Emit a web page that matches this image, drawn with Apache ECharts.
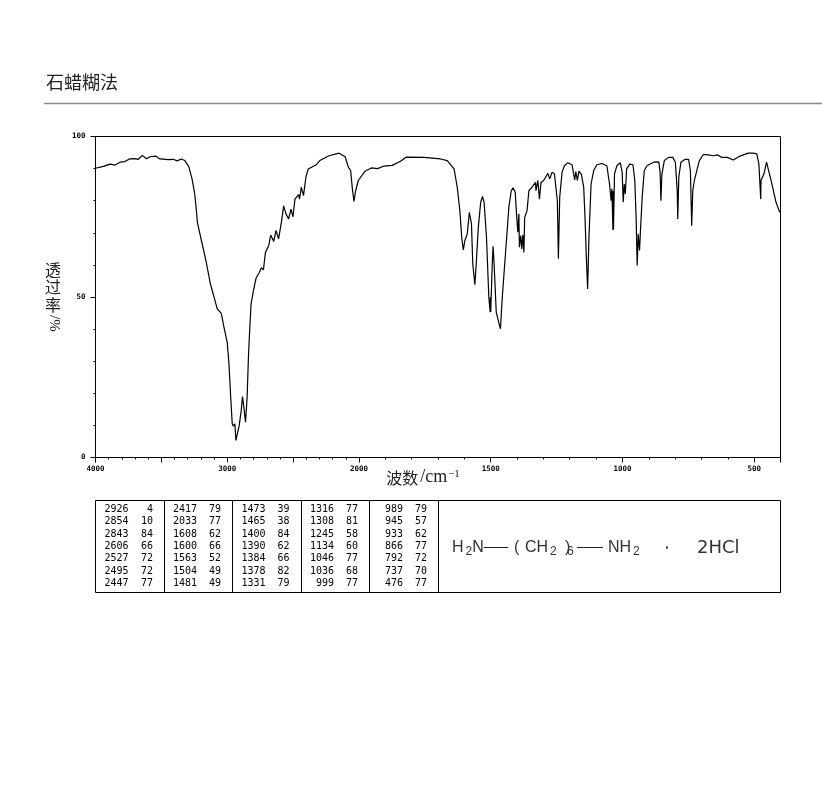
<!DOCTYPE html>
<html>
<head>
<meta charset="utf-8">
<style>html,body{margin:0;padding:0;background:#fff}#c{width:822px;height:794px}</style>
<script src="https://cdn.jsdelivr.net/npm/echarts@6/dist/echarts.min.js"></script>
</head>
<body>
<div id="c"></div>
<script>
const titleText = '石蜡糊法';
const xLabelTicks = [4000, 3000, 2000, 1500, 1000, 500];
const xMajorTicks = [4000, 3500, 3000, 2500, 2000, 1500, 1000, 500, 400];
const xMinorTicks = [3900,3800,3700,3600,3400,3300,3200,3100,2900,2800,2700,2600,2400,2300,2200,2100,1900,1800,1700,1600,1400,1300,1200,1100,900,800,700,600];
const yMajorTicks = [0, 50, 100];
const yMinorTicks = [10,20,30,40,60,70,80,90];
const wavenumbers = [
4000,3940,3889,3851,3814,3776,3743,3700,3675,3645,3612,3587,3544,3511,3448,3410,3380,3348,3322,3292,
3267,3247,3234,3227,3196,3159,3128,3103,3076,3045,3025,3000,2987,2975,2962,2955,2942,2934,2922,2909,
2894,2884,2874,2861,2854,2849,2839,2831,2819,2801,2781,2756,2741,2725,2710,2685,2670,2647,2630,2610,
2587,2572,2554,2534,2516,2501,2486,2458,2451,2438,2421,2403,2385,2327,2297,2227,2151,2105,2080,2063,
2050,2038,2025,2005,1977,1953,1929,1905,1874,1842,1820,1753,1690,
1665,1639,1627,1617,1610,1604,1598,1589,1581,1576,1573,1568,1560,1555,1547,1538,1531,1525,1516,1507,
1502,1501,1500,1494,1491,1487,1479,1473,1468,1463,1456,1444,1431,1422,1415,1407,1402,1397,1393,1391,
1386,1382,1378,1374,1371,1362,1355,1343,1330,1328,1321,1315,1309,1299,1283,1276,1267,1258,1247,1243,
1238,1229,1220,1208,1191,1185,1181,1177,1171,1165,1156,1147,1142,1137,1132,1127,1119,1109,1097,1078,
1059,1049,1043,1040,1036,1035,1034,1030,1021,1008,1001,997,993,989,984,972,960,953,948,944,940,935,932,
925,917,907,882,862,857,854,850,841,825,809,799,792,790,786,778,762,749,742,737,733,727,720,708,693,674,
655,640,623,602,579,554,522,503,490,482,475,474,463,453,446,434,417,404,400];
const transmittance = [
90.1,90.7,91.4,91.1,92.0,92.2,93.0,93.1,92.9,94.1,93.1,93.7,93.9,93.0,92.8,92.9,92.4,93.0,92.5,90.6,
86.8,82.1,76.9,73.3,67.6,60.8,54.1,50.4,46.3,44.9,40.6,35.9,29.2,19.8,10.5,9.8,10.5,5.3,5.1,10.0,
14.6,19.0,15.7,11.0,10.5,18.8,31.2,38.5,47.9,52.0,55.9,57.7,59.1,58.5,63.9,66.0,69.3,67.3,70.7,68.1,
73.8,78.4,75.9,74.3,77.4,75.0,80.5,81.9,80.5,84.2,81.6,87.3,89.9,91.1,92.5,94.0,94.8,93.7,90.4,89.4,
83.7,79.8,83.1,86.3,89.2,90.2,90.0,90.8,91.0,92.3,93.6,93.5,93.0,
92.5,89.9,84.2,76.9,68.6,64.7,67.6,69.6,76.4,76.7,72.8,60.3,53.8,60.3,71.7,79.5,81.3,79.5,68.6,49.9,
45.3,49.9,45.3,60.3,65.8,60.3,45.3,45.3,41.6,40.1,49.9,63.4,78.0,83.1,84.0,82.6,75.9,70.2,75.9,65.5,
69.1,65.0,69.4,63.9,74.8,76.9,83.1,84.2,85.7,83.1,86.3,80.5,85.7,86.3,88.5,86.8,88.9,88.3,80.0,61.9,
81.1,88.9,90.9,91.8,91.2,88.3,86.5,89.1,86.3,89.2,88.3,84.2,74.8,62.4,52.5,68.6,85.2,89.4,91.2,91.6,
90.9,85.2,80.0,83.7,70.9,83.0,71.0,88.3,90.9,91.8,88.9,79.5,85.2,82.1,89.9,91.4,91.2,86.3,74.8,59.8,69.6,64.5,69.9,
81.1,89.4,90.9,92.0,92.1,88.9,80.0,88.3,92.5,93.5,93.5,92.0,83.1,74.3,87.3,92.0,92.9,92.9,89.4,72.2,83.1,86.3,86.8,92.5,94.4,94.3,
94.0,94.3,93.5,93.5,92.7,93.9,94.8,94.8,94.6,91.4,80.5,86.3,88.3,92.0,91.4,85.7,79.5,76.6,76.4];
const peakColumns = [
  [[2926,4],[2854,10],[2843,84],[2606,66],[2527,72],[2495,72],[2447,77]],
  [[2417,79],[2033,77],[1608,62],[1600,66],[1563,52],[1504,49],[1481,49]],
  [[1473,39],[1465,38],[1400,84],[1390,62],[1384,66],[1378,82],[1331,79]],
  [[1316,77],[1308,81],[1245,58],[1134,60],[1046,77],[1036,68],[999,77]],
  [[989,79],[945,57],[933,62],[866,77],[792,72],[737,70],[476,77]]
];

// The axis doubles its scale below 2000 cm-1; this folds a wavenumber into axis units.
const toAxis = w => w >= 2000 ? 4000 - w : 2000 + (2000 - w) * 2;
const fromAxis = p => p <= 2000 ? 4000 - p : 2000 - (p - 2000) / 2;
const axisMax = toAxis(400);

const mono = '"DejaVu Sans Mono"';
const subRich = {
  a: {fontFamily: '"Liberation Sans"', fontSize: 16, color: '#333'},
  s: {fontFamily: '"Liberation Sans"', fontSize: 12, color: '#333', padding: [7, 0, 0, 2]}
};

const g = [];
g.push({type: 'line', shape: {x1: 44, y1: 103.5, x2: 822, y2: 103.5}, style: {stroke: '#8a8a8a', lineWidth: 1.5}, silent: true});
g.push({type: 'text', x: 45, y: 261, style: {text: '透\n过\n率', fontFamily: '"Noto Sans CJK SC"', fontSize: 16, lineHeight: 17.5, fill: '#222'}});
g.push({type: 'text', x: 61, y: 315, rotation: -Math.PI / 2, style: {text: '/%', fontFamily: '"Liberation Serif"', fontSize: 15, fill: '#222'}});

// peak table
const tableL = 95.5, tableT = 500.5, tableR = 780.5, tableB = 592.5;
g.push({type: 'rect', shape: {x: tableL, y: tableT, width: tableR - tableL, height: tableB - tableT}, style: {fill: 'none', stroke: '#000', lineWidth: 1}});
const dividers = [164.5, 232.5, 301.5, 369.5, 438.5];
dividers.forEach(x => g.push({type: 'line', shape: {x1: x, y1: tableT, x2: x, y2: tableB}, style: {stroke: '#000', lineWidth: 1}}));
const waveRight = [128.5, 197, 265.5, 334, 403];
const valueRight = [153, 221, 289.5, 358, 427];
peakColumns.forEach((col, c) => col.forEach((row, r) => {
  const y = 509.5 + r * 12.33;
  g.push({type: 'text', x: waveRight[c], y, style: {text: String(row[0]), align: 'right', verticalAlign: 'middle', fontFamily: mono, fontSize: 10, fill: '#000'}});
  g.push({type: 'text', x: valueRight[c], y, style: {text: String(row[1]), align: 'right', verticalAlign: 'middle', fontFamily: mono, fontSize: 10, fill: '#000'}});
}));

// formula
const fy = 548;
const ftext = (x, text) => g.push({type: 'text', x, y: fy, style: {text, rich: subRich, verticalAlign: 'middle', fontFamily: '"Liberation Sans"', fontSize: 16, fill: '#333'}});
ftext(452, '{a|H}{s|2}{a|N}');
g.push({type: 'line', shape: {x1: 484, y1: 547.5, x2: 508, y2: 547.5}, style: {stroke: '#222', lineWidth: 1}});
ftext(514, '{a|(}');
ftext(525, '{a|CH}{s|2}');
ftext(565, '{a|)}');
ftext(565, '{s|6}');
g.push({type: 'line', shape: {x1: 577, y1: 547.5, x2: 603, y2: 547.5}, style: {stroke: '#222', lineWidth: 1}});
ftext(608, '{a|NH}{s|2}');
g.push({type: 'rect', shape: {x: 666, y: 546.5, width: 2, height: 2}, style: {fill: '#222'}});
g.push({type: 'text', x: 697, y: fy, style: {text: '2HCl', verticalAlign: 'middle', fontFamily: '"DejaVu Sans"', fontSize: 18, fill: '#333'}});

const noLabel = {show: false};
const common = {type: 'value', min: 0, max: axisMax, splitLine: {show: false}};
const option = {
  animation: false,
  backgroundColor: '#fff',
  title: {text: titleText, left: 41, top: 68, textStyle: {fontFamily: '"Noto Sans CJK SC"', fontSize: 18, fontWeight: 'normal', color: '#222'}},
  grid: {left: 95.5, top: 136.5, width: 685, height: 321, show: true, borderColor: '#000', borderWidth: 1, backgroundColor: 'transparent'},
  xAxis: [
    Object.assign({}, common, {
      position: 'bottom',
      name: '{c|波数}{l|/cm}{u|−1}', nameLocation: 'middle', nameGap: 11, nameMoveOverlap: false,
      nameTextStyle: {padding: [0, 30, 0, 0], rich: {
        c: {fontFamily: '"Noto Sans CJK SC"', fontSize: 16, color: '#222'},
        l: {fontFamily: '"Liberation Serif"', fontSize: 18, color: '#222', padding: [0, 0, 0, 2]},
        u: {fontFamily: '"Liberation Serif"', fontSize: 11, color: '#222', padding: [0, 0, 7, 1]}
      }},
      axisLine: {onZero: false, lineStyle: {color: '#000', width: 1}},
      axisTick: {length: 5, customValues: xMajorTicks.map(toAxis), lineStyle: {color: '#000'}},
      axisLabel: {customValues: xLabelTicks.map(toAxis), formatter: v => String(Math.round(fromAxis(v))), margin: 8, color: '#000', fontFamily: mono, fontWeight: 'bold', fontSize: 7.5, showMinLabel: true, hideOverlap: false}
    }),
    Object.assign({}, common, {
      position: 'bottom', axisLine: {show: false}, axisLabel: noLabel,
      axisTick: {length: 2, customValues: xMinorTicks.map(toAxis), lineStyle: {color: '#000'}}
    })
  ],
  yAxis: [
    {type: 'value', min: 0, max: 100, splitLine: {show: false},
      axisLine: {onZero: false, lineStyle: {color: '#000', width: 1}},
      axisTick: {length: 5, customValues: yMajorTicks, lineStyle: {color: '#000'}},
      axisLabel: {customValues: yMajorTicks, margin: 10, color: '#000', fontFamily: mono, fontWeight: 'bold', fontSize: 7.5}},
    {type: 'value', position: 'left', min: 0, max: 100, splitLine: {show: false},
      axisLine: {show: false}, axisLabel: noLabel,
      axisTick: {length: 2, customValues: yMinorTicks, lineStyle: {color: '#000'}}}
  ],
  series: [{
    type: 'line', xAxisIndex: 0, yAxisIndex: 0, showSymbol: false, smooth: false, clip: true,
    lineStyle: {color: '#000', width: 1.2}, silent: true,
    data: wavenumbers.map((w, i) => [toAxis(w), transmittance[i]])
  }],
  graphic: {elements: g}
};
const chart = echarts.init(document.getElementById('c'), null, {renderer: 'canvas'});
chart.setOption(option);
</script>
</body>
</html>
